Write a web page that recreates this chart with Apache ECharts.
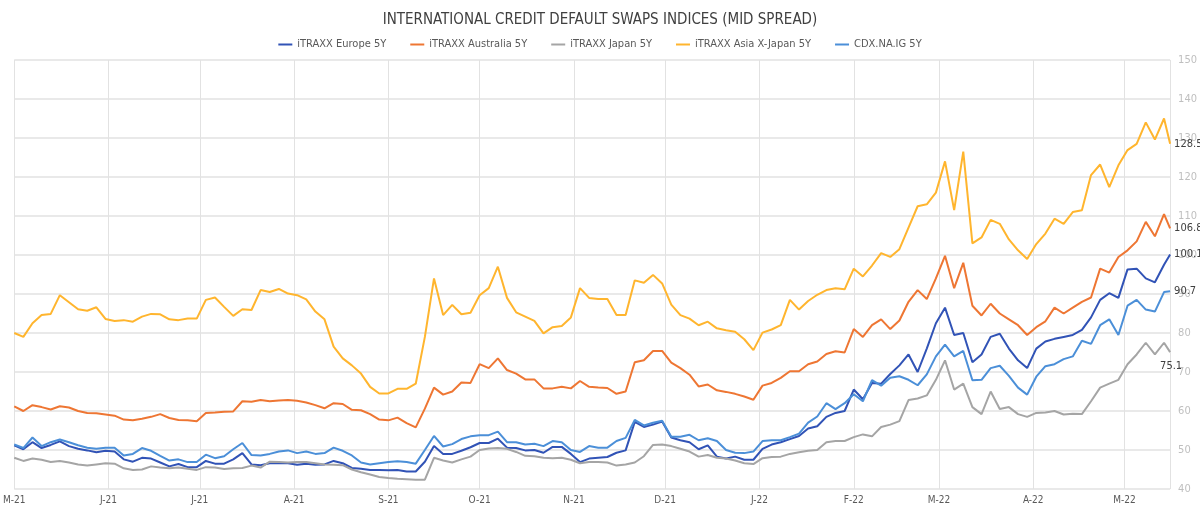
<!DOCTYPE html>
<html>
<head>
<meta charset="utf-8">
<title>International CDS Indices</title>
<script src="https://cdn.jsdelivr.net/npm/echarts@6.0.0/dist/echarts.min.js"></script>
<style>
  html, body { margin: 0; padding: 0; background: #fff; }
  #cdsChart { width: 1200px; height: 512px; }
</style>
</head>
<body>
<div id="cdsChart"></div>
<script>
// observation dates (3-day sampling), May 2021 - May 2022
var dates = [
  '2021-05-01','2021-05-04','2021-05-07','2021-05-10','2021-05-13','2021-05-16','2021-05-19','2021-05-22','2021-05-25','2021-05-28',
  '2021-05-31','2021-06-03','2021-06-06','2021-06-09','2021-06-12','2021-06-15','2021-06-18','2021-06-21','2021-06-24','2021-06-27',
  '2021-06-30','2021-07-03','2021-07-06','2021-07-09','2021-07-12','2021-07-15','2021-07-18','2021-07-21','2021-07-24','2021-07-27',
  '2021-07-30','2021-08-02','2021-08-05','2021-08-08','2021-08-11','2021-08-14','2021-08-17','2021-08-20','2021-08-23','2021-08-26',
  '2021-08-29','2021-09-01','2021-09-04','2021-09-07','2021-09-10','2021-09-13','2021-09-16','2021-09-19','2021-09-22','2021-09-25',
  '2021-09-28','2021-10-01','2021-10-04','2021-10-07','2021-10-10','2021-10-13','2021-10-16','2021-10-19','2021-10-22','2021-10-25',
  '2021-10-28','2021-10-31','2021-11-03','2021-11-06','2021-11-09','2021-11-12','2021-11-15','2021-11-18','2021-11-21','2021-11-24',
  '2021-11-27','2021-11-30','2021-12-03','2021-12-06','2021-12-09','2021-12-12','2021-12-15','2021-12-18','2021-12-21','2021-12-24',
  '2021-12-27','2021-12-30','2022-01-02','2022-01-05','2022-01-08','2022-01-11','2022-01-14','2022-01-17','2022-01-20','2022-01-23',
  '2022-01-26','2022-01-29','2022-02-01','2022-02-04','2022-02-07','2022-02-10','2022-02-13','2022-02-16','2022-02-19','2022-02-22',
  '2022-02-25','2022-02-28','2022-03-03','2022-03-06','2022-03-09','2022-03-12','2022-03-15','2022-03-18','2022-03-21','2022-03-24',
  '2022-03-27','2022-03-30','2022-04-02','2022-04-05','2022-04-08','2022-04-11','2022-04-14','2022-04-17','2022-04-20','2022-04-23',
  '2022-04-26','2022-04-29','2022-05-02','2022-05-05','2022-05-08','2022-05-11','2022-05-14','2022-05-16'
];

var europe = [
  51.2, 50.2, 52.0, 50.5, 51.3, 52.2, 51.0, 50.3, 49.9, 49.4,
  49.8, 49.6, 47.6, 47.0, 48.0, 47.8, 46.8, 45.8, 46.4, 45.6,
  45.6, 47.2, 46.5, 46.5, 47.6, 49.2, 46.3, 46.1, 46.6, 46.6,
  46.6, 46.2, 46.5, 46.2, 46.3, 47.2, 46.6, 45.4, 45.2, 44.9,
  44.9, 44.8, 44.9, 44.5, 44.5, 47.0, 51.0, 49.0, 49.0, 49.8,
  50.7, 51.8, 51.8, 52.9, 50.6, 50.5, 49.9, 50.0, 49.3, 50.8,
  50.8, 49.0, 46.9, 47.8, 48.0, 48.2, 49.3, 49.9, 57.2, 55.9,
  56.5, 57.3, 53.2, 52.5, 52.0, 50.2, 51.2, 48.3, 47.8, 48.3,
  47.5, 47.5, 50.3, 51.4, 52.0, 52.8, 53.6, 55.5, 56.1, 58.5,
  59.5, 60.0, 65.5, 63.0, 67.2, 67.0, 69.5, 71.7, 74.5, 70.0,
  76.0, 82.5, 86.5, 79.5, 80.0, 72.5, 74.5, 79.0, 79.8, 76.0,
  73.0, 71.0, 76.0, 77.8, 78.5, 79.0, 79.5, 80.8, 84.0, 88.5,
  90.2, 89.0, 96.3, 96.5, 94.0, 93.0, 97.5, 100.1
];

var australia = [
  61.2, 60.0, 61.5, 61.0, 60.4, 61.2, 60.9, 60.0, 59.5, 59.4,
  59.1, 58.8, 57.8, 57.6, 58.0, 58.5, 59.2, 58.2, 57.7, 57.6,
  57.4, 59.5, 59.6, 59.8, 59.9, 62.5, 62.4, 62.8, 62.5, 62.7,
  62.8, 62.6, 62.2, 61.5, 60.7, 62.0, 61.8, 60.3, 60.2, 59.2,
  57.8, 57.6, 58.3, 56.9, 55.8, 60.6, 66.0, 64.2, 65.0, 67.3,
  67.2, 72.0, 71.0, 73.5, 70.5, 69.6, 68.1, 68.1, 65.8, 65.8,
  66.2, 65.8, 67.7, 66.2, 66.0, 65.9, 64.4, 65.0, 72.5, 73.0,
  75.4, 75.4, 72.4, 71.0, 69.3, 66.3, 66.8, 65.3, 64.9, 64.4,
  63.7, 62.9, 66.5, 67.2, 68.5, 70.2, 70.2, 72.0, 72.7, 74.6,
  75.3, 75.0, 81.0, 79.0, 82.0, 83.5, 81.0, 83.2, 88.0, 91.0,
  88.7, 94.0, 99.8, 91.5, 98.0, 87.0, 84.5, 87.5, 85.0, 83.5,
  82.0, 79.5, 81.5, 83.0, 86.5, 85.0, 86.5, 88.0, 89.1, 96.5,
  95.5, 99.5, 101.2, 103.5, 108.5, 104.8, 110.5, 106.8
];

var japan = [
  48.0, 47.2, 47.8, 47.5, 46.9, 47.2, 46.8, 46.3, 46.0, 46.3,
  46.6, 46.5, 45.3, 44.9, 45.0, 45.8, 45.5, 45.3, 45.5, 45.2,
  44.9, 45.6, 45.5, 45.1, 45.3, 45.4, 46.0, 45.5, 47.0, 46.9,
  46.8, 46.9, 46.9, 46.6, 46.3, 46.2, 46.1, 45.0, 44.3, 43.7,
  43.1, 42.8, 42.6, 42.5, 42.4, 42.4, 48.0, 47.3, 46.8, 47.6,
  48.3, 50.0, 50.4, 50.5, 50.3, 49.5, 48.5, 48.4, 48.0, 47.9,
  48.0, 47.5, 46.6, 46.9, 46.9, 46.8, 46.0, 46.3, 46.8, 48.4,
  51.3, 51.4, 51.0, 50.3, 49.6, 48.3, 48.7, 48.0, 47.8, 47.3,
  46.6, 46.4, 47.9, 48.2, 48.3, 49.0, 49.4, 49.8, 50.0, 52.0,
  52.3, 52.3, 53.3, 54.0, 53.5, 55.9, 56.5, 57.4, 62.8, 63.2,
  64.0, 68.0, 73.0, 65.5, 67.0, 61.0, 59.2, 65.0, 60.5, 61.0,
  59.2, 58.5, 59.5, 59.6, 60.0, 59.1, 59.3, 59.2, 62.5, 66.0,
  67.0, 68.0, 72.0, 74.5, 77.5, 74.5, 77.5, 75.1
];

var asiaExJapan = [
  80.0, 79.0, 82.5, 84.6, 84.9, 89.7, 87.9, 86.1, 85.7, 86.6,
  83.6, 83.1, 83.3, 82.9, 84.2, 84.9, 84.8, 83.5, 83.3, 83.7,
  83.7, 88.5, 89.1, 86.7, 84.4, 86.1, 85.9, 91.0, 90.5, 91.3,
  90.1, 89.7, 88.6, 85.5, 83.5, 76.5, 73.5, 71.7, 69.6, 66.2,
  64.5, 64.5, 65.7, 65.7, 67.0, 79.0, 94.0, 84.6, 87.2, 84.8,
  85.2, 89.7, 91.5, 97.0, 89.0, 85.3, 84.2, 83.1, 79.9, 81.5,
  81.8, 84.0, 91.5, 89.0, 88.7, 88.7, 84.6, 84.6, 93.5, 92.9,
  94.9, 92.7, 87.3, 84.6, 83.7, 82.0, 82.9, 81.2, 80.7, 80.3,
  78.4, 75.6, 80.1, 80.9, 82.0, 88.5, 86.0, 88.2, 89.8, 91.0,
  91.5, 91.2, 96.5, 94.5, 97.3, 100.5, 99.5, 101.5, 107.0, 112.5,
  113.0, 116.0, 124.0, 111.5, 126.5, 103.0, 104.5, 109.0, 108.0, 104.0,
  101.2, 99.0, 102.8, 105.5, 109.3, 108.0, 111.0, 111.5, 120.5, 123.2,
  117.4, 123.0, 126.9, 128.5, 134.0, 129.6, 135.0, 128.5
];

var cdxIG = [
  51.4, 50.5, 53.2, 51.0, 52.0, 52.7, 52.0, 51.2, 50.6, 50.3,
  50.6, 50.6, 48.6, 49.0, 50.5, 49.8, 48.5, 47.3, 47.6, 46.9,
  46.9, 48.8, 47.9, 48.4, 50.2, 51.8, 48.7, 48.6, 49.0, 49.6,
  49.9, 49.2, 49.6, 49.0, 49.2, 50.6, 49.8, 48.6, 46.8, 46.3,
  46.6, 46.9, 47.1, 46.9, 46.5, 50.0, 53.6, 50.9, 51.5, 52.8,
  53.5, 53.8, 53.8, 54.7, 52.0, 52.0, 51.4, 51.6, 51.0, 52.3,
  52.0, 50.0, 49.5, 51.0, 50.6, 50.6, 52.3, 53.1, 57.7, 56.3,
  57.0, 57.5, 53.4, 53.4, 53.9, 52.5, 53.0, 52.3, 50.0, 49.3,
  49.2, 49.6, 52.3, 52.5, 52.5, 53.3, 54.2, 57.0, 58.6, 62.0,
  60.5, 62.0, 64.3, 62.5, 67.9, 66.5, 68.5, 68.9, 68.0, 66.6,
  69.4, 74.0, 77.0, 74.0, 75.4, 67.9, 68.0, 71.0, 71.6, 69.0,
  66.0, 64.2, 68.8, 71.5, 72.0, 73.3, 74.0, 78.0, 77.2, 82.0,
  83.5, 79.5, 87.0, 88.5, 86.0, 85.5, 90.5, 90.7
];

var seriesNames = ['iTRAXX Europe 5Y', 'iTRAXX Australia 5Y', 'iTRAXX Japan 5Y', 'iTRAXX Asia X-Japan 5Y', 'CDX.NA.IG 5Y'];
var seriesColors = ['#3153b6', '#ee7633', '#a5a5a5', '#ffb52e', '#4b8fd8'];
var monthLetters = ['J', 'F', 'M', 'A', 'M', 'J', 'J', 'A', 'S', 'O', 'N', 'D'];

var narrowFont = "'Liberation Sans Narrow', 'DejaVu Sans Condensed', sans-serif";

function makeSeries(name, values, color, labelOffset) {
  return {
    name: name,
    type: 'line',
    data: dates.map(function (d, i) { return [d, values[i]]; }),
    showSymbol: false,
    symbol: 'none',
    lineStyle: { width: 2, color: color },
    itemStyle: { color: color },
    endLabel: {
      show: true,
      formatter: function (p) { return p.value[1].toFixed(1); },
      color: '#404040',
      fontSize: 11,
      fontFamily: narrowFont,
      distance: 4,
      offset: labelOffset || [0, 0]
    }
  };
}

document.addEventListener("DOMContentLoaded", () => {
  echarts.init(document.querySelector("#cdsChart")).setOption({
    animation: false,
    title: {
      text: 'INTERNATIONAL CREDIT DEFAULT SWAPS INDICES (MID SPREAD)',
      left: 'center',
      top: 8,
      textStyle: {
        fontSize: 15,
        fontWeight: 'normal',
        color: '#404040',
        fontFamily: narrowFont
      }
    },
    legend: {
      top: 34,
      left: 'center',
      icon: 'rect',
      itemWidth: 14,
      itemHeight: 2,
      itemGap: 24,
      textStyle: { fontSize: 11, color: '#595959', fontFamily: narrowFont },
      data: seriesNames
    },
    grid: { left: 11, right: 28, top: 60, bottom: 23 },
    xAxis: {
      type: 'time',
      min: '2021-05-01',
      max: '2022-05-16',
      minInterval: 28 * 86400000,
      maxInterval: 31 * 86400000,
      axisLine: { show: false },
      axisTick: { show: false },
      splitLine: { show: true, lineStyle: { color: '#e2e2e2', width: 1 } },
      axisLabel: {
        color: '#595959',
        fontSize: 10,
        fontFamily: narrowFont,
        margin: 6,
        showMaxLabel: false,
        formatter: function (value) {
          var d = new Date(value);
          if (d.getDate() !== 1) return '';
          return monthLetters[d.getMonth()] + '-' + String(d.getFullYear()).slice(2);
        }
      }
    },
    yAxis: {
      type: 'value',
      position: 'right',
      min: 40,
      max: 150,
      interval: 10,
      axisLine: { show: false },
      axisTick: { show: false },
      splitLine: { lineStyle: { color: '#e2e2e2', width: 1.5 } },
      axisLabel: { color: '#bfbfbf', fontSize: 11, fontFamily: narrowFont, margin: 8 }
    },
    series: [
      makeSeries(seriesNames[0], europe, seriesColors[0]),
      makeSeries(seriesNames[1], australia, seriesColors[1]),
      makeSeries(seriesNames[2], japan, seriesColors[2], [-14, 14]),
      makeSeries(seriesNames[3], asiaExJapan, seriesColors[3]),
      makeSeries(seriesNames[4], cdxIG, seriesColors[4])
    ]
  });
});
</script>
</body>
</html>
